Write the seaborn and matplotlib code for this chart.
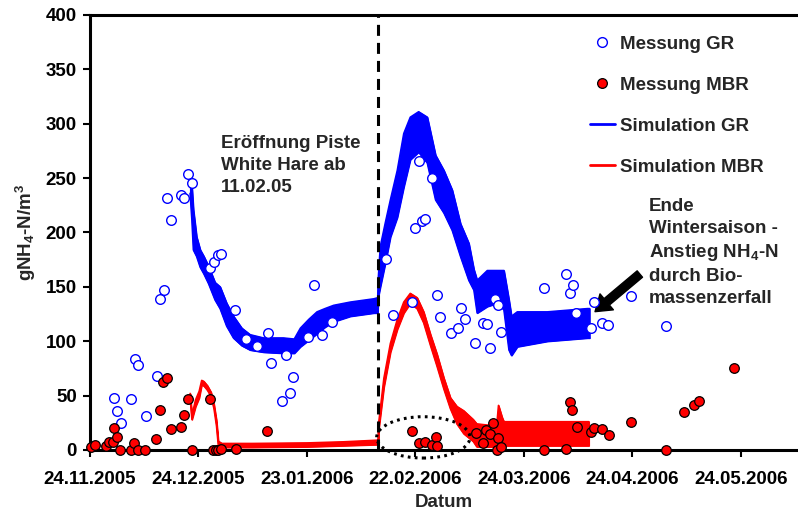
import matplotlib
matplotlib.use("Agg")
import matplotlib.pyplot as plt
import seaborn as sns
import pandas as pd
from matplotlib.lines import Line2D
from matplotlib.patches import Ellipse

sns.set_style("ticks")
plt.rcParams['font.family'] = ['Liberation Sans', 'DejaVu Sans']
plt.rcParams['font.weight'] = 'bold'
plt.rcParams['mathtext.fontset'] = 'custom'
plt.rcParams['mathtext.rm'] = 'Liberation Sans:bold'
plt.rcParams['mathtext.it'] = 'Liberation Sans:bold'
plt.rcParams['mathtext.bf'] = 'Liberation Sans:bold'

# ---------------- data (x = days since 24.11.2005) ----------------
tick_days = [0, 30, 60, 90, 120, 150, 180]
tick_labels = ['24.11.2005', '24.12.2005', '23.01.2006', '22.02.2006',
               '24.03.2006', '24.04.2006', '24.05.2006']
y_ticks = [0, 50, 100, 150, 200, 250, 300, 350, 400]

gr_day = [6.6, 7.4, 8.5, 11.4, 12.5, 13.4, 15.4, 18.4, 19.4, 20.4,
          21.2, 22.3, 25.2, 26.1, 27.2, 28.3, 33.3, 34.3, 35.3, 36.2,
          40.2, 43.1, 46.2, 49.2, 50.1, 53.1, 54.3, 55.2, 56.2, 60.2,
          62.0, 64.1, 67.0, 81.9, 83.9, 89.0, 89.8, 90.9, 91.9, 92.8,
          94.7, 96.0, 96.8, 99.9, 101.8, 102.7, 103.8, 106.6, 108.7, 109.7,
          110.6, 111.9, 112.8, 113.7, 125.7, 131.7, 132.9, 133.5, 134.5, 138.6,
          139.5, 141.6, 143.4, 149.7, 159.4]
gr_val = [47.5, 35.9, 24.8, 46.9, 83.4, 78.2, 31.3, 68.3, 138.6, 147.4,
          232, 211.8, 234.2, 232, 253.8, 245.8, 167, 172.6, 179.3, 180.5,
          128.7, 101.8, 95.6, 107.9, 80.3, 44.8, 87.4, 52.1, 66.8, 103.6,
          152, 105.4, 117.7, 175.6, 124.1, 136.4, 204.1, 266, 210.9, 212.1,
          249.8, 142.2, 122.6, 107.9, 112.5, 130.3, 120.5, 98.7, 117.1, 116.2,
          94.1, 138.5, 133.6, 108.8, 149.3, 162.1, 144.7, 151.4, 126, 112.5,
          135.8, 117.1, 114.7, 142, 114.3]

mbr_day = [0.3, 1.4, 4.3, 5.3, 6.5, 6.6, 7.4, 8.4, 11.4, 12.3,
           13.2, 15.3, 18.3, 19.4, 20.3, 21.3, 22.4, 25.3, 26.1, 27.2,
           28.2, 33.2, 34.0, 34.8, 35.5, 36.3, 40.3, 49.1, 89.1, 91.0,
           92.7, 94.7, 95.8, 96.0, 106.7, 108.7, 109.6, 110.6, 111.6, 112.5,
           113.0, 113.7, 125.6, 131.7, 132.8, 133.4, 134.6, 138.5, 139.5, 141.6,
           143.5, 149.7, 159.4, 164.4, 167.2, 168.4, 178.2]
mbr_val = [3.0, 4.6, 4.0, 7.1, 7.6, 20.5, 12.3, 0, 0, 6.7,
           0, 0, 9.8, 36.8, 62.8, 65.9, 19.0, 21.5, 32.2, 46.6,
           0, 46.6, 0, 0, 0, 0.9, 0.6, 17.5, 17.5, 6.1,
           7.7, 4.6, 12.3, 4.0, 16.0, 6.7, 18.4, 14.4, 25.1, 0,
           10.7, 3.0, 0, 0.6, 44.5, 36.8, 21.5, 16.2, 20.5, 19.3,
           13.5, 26.0, 0, 34.6, 41.4, 45.0, 75.4]

# simulation: oscillation envelope (lower / upper)
sim_gr_day = [27.7, 28.2, 28.6, 29.5, 30.5, 31.5, 32.8, 34.6, 36.0, 37.8,
              39.7, 42.0, 44.3, 48.0, 53.5, 56.5, 58.2, 60.5, 62.8, 65.0,
              67.4, 72.0, 78.5, 79.6, 79.7, 80.3, 81.7, 83.1, 85.0, 86.8,
              88.6, 90.9, 93.3, 95.6, 97.9, 100.2, 102.5, 104.8, 106.2, 107.1,
              109.9, 112.7, 114.5, 115.9, 116.6, 118.2, 126.5, 137.6, 138.2]
sim_gr_lo = [236, 211, 184, 178, 168, 162, 153, 138, 130, 114,
             103, 96, 92, 90, 89, 89, 95, 101, 107, 113,
             118, 123, 126, 126, 140, 150, 172, 196, 214, 242,
             267, 274, 264, 230, 218, 202, 178, 156, 147, 126,
             132, 135, 129, 92, 87, 95, 100, 103, 103]
sim_gr_hi = [246, 242, 221, 196, 184, 178, 169, 154, 150, 135,
             123, 112, 106, 103, 103, 102, 112, 120, 127, 130,
             133, 136, 139, 140, 155, 187, 209, 230, 257, 291,
             306, 311, 306, 271, 257, 239, 208, 190, 166, 156,
             165, 165, 165, 138, 123, 127, 127, 130, 130]

sim_mbr_day = [27.7, 28.2, 29.2, 30.2, 30.9, 31.5, 32.5, 33.5, 34.3, 35.0,
               35.5, 36.5, 45.0, 60.0, 70.0, 79.5, 79.7, 79.9, 81.3, 83.1,
               85.0, 86.8, 88.6, 90.5, 92.3, 94.2, 96.0, 97.9, 99.7, 101.5,
               103.4, 106.0, 107.0, 112.5, 113.0, 114.0, 114.5, 138.0]
sim_mbr_lo = [48, 28, 40, 48, 60, 59, 55, 49, 38, 22,
              4, 2.5, 2.5, 3, 4, 5, 5, 20, 58, 90,
              111, 126, 135, 130, 117, 96, 77, 56, 38, 24,
              15, 8, 3, 3, 3, 4, 4, 4]
sim_mbr_hi = [52, 32, 46, 54, 64, 63, 59, 53, 42, 27,
              8, 6, 6, 6.5, 7.5, 9, 10, 26, 66, 98,
              120, 136, 144, 140, 127, 106, 88, 66, 48, 40,
              36, 28, 24, 22, 41, 30, 26, 26]

event_day = 79.7
legend_labels = ['Messung GR', 'Messung MBR', 'Simulation GR', 'Simulation MBR']

# ---------------- figure ----------------
fig = plt.figure(figsize=(7.98, 5.12), dpi=100)
ax = fig.add_axes([90 / 798, 62 / 512, 707 / 798, 435 / 512])

gr_sim = pd.DataFrame({'d': sim_gr_day, 'lo': sim_gr_lo, 'hi': sim_gr_hi})
mbr_sim = pd.DataFrame({'d': sim_mbr_day, 'lo': sim_mbr_lo, 'hi': sim_mbr_hi})

ax.fill_between(gr_sim['d'], gr_sim['lo'], gr_sim['hi'], color='#0000FF', lw=1.0, zorder=2)
sns.lineplot(data=gr_sim, x='d', y='lo', color='#0000FF', lw=1.2, sort=False, ax=ax, zorder=2)
sns.lineplot(data=gr_sim, x='d', y='hi', color='#0000FF', lw=1.2, sort=False, ax=ax, zorder=2)

ax.fill_between(mbr_sim['d'], mbr_sim['lo'], mbr_sim['hi'], color='#FF0000', lw=1.0, zorder=2.1)
sns.lineplot(data=mbr_sim, x='d', y='lo', color='#FF0000', lw=1.2, sort=False, ax=ax, zorder=2.1)
sns.lineplot(data=mbr_sim, x='d', y='hi', color='#FF0000', lw=1.2, sort=False, ax=ax, zorder=2.1)

ax.axvline(event_day, color='black', lw=2.2, linestyle=(0, (3.6, 2.3)), zorder=3)

sns.scatterplot(x=gr_day, y=gr_val, ax=ax, marker='o', s=48, color='white',
                edgecolor='#0000FF', linewidth=1.0, zorder=5, clip_on=False)
sns.scatterplot(x=mbr_day, y=mbr_val, ax=ax, marker='o', s=48, color='#FF0000',
                edgecolor='black', linewidth=0.9, zorder=5, clip_on=False)

ell = Ellipse((92.2, 11.6), width=25.8, height=38, fill=False, edgecolor='black',
              lw=2.2, linestyle=(0, (0.9, 1.4)), clip_on=False, zorder=4)
ax.add_patch(ell)

# axes styling
ax.set_xlim(0, 707 / 3.615)
ax.set_ylim(0, 400)
ax.set_xticks(tick_days)
ax.set_xticklabels(tick_labels)
ax.set_yticks(y_ticks)
for s in ['left', 'bottom', 'top']:
    ax.spines[s].set_linewidth(2.2)
    ax.spines[s].set_color('black')
ax.spines['right'].set_visible(False)
ax.tick_params(axis='x', direction='out', length=5, width=1.5, pad=10,
               labelsize=13.5, colors='black')
ax.tick_params(axis='y', direction='out', length=5, width=1.5, pad=4.5,
               labelsize=13.5, colors='black')
for lab in ax.get_xticklabels() + ax.get_yticklabels():
    lab.set_fontweight('bold')

ax.set_xlabel('Datum', fontsize=13.5, fontweight='bold')
ax.xaxis.set_label_coords(0.5, -0.102)
ax.set_ylabel('gNH$_4$-N/m$^3$', fontsize=13.5, fontweight='bold')
ax.yaxis.set_label_coords(-0.074, 0.5)

# legend
handles = [
    Line2D([], [], marker='o', ls='none', mfc='white', mec='#0000FF', ms=7, mew=1.0),
    Line2D([], [], marker='o', ls='none', mfc='#FF0000', mec='black', ms=7, mew=0.9),
    Line2D([], [], color='#0000FF', lw=2),
    Line2D([], [], color='#FF0000', lw=2),
]
leg = ax.legend(handles, legend_labels, loc='upper left',
                bbox_to_anchor=((590 - 90) / 707, (450 - 35.5) / 435),
                frameon=False, borderpad=0, borderaxespad=0,
                labelspacing=1.28, handlelength=1.33, handletextpad=0.25,
                prop={'size': 13.5, 'weight': 'bold'})

# annotations
ax.text(36.2, 289.5, 'Eröffnung Piste\nWhite Hare ab\n11.02.05', fontsize=13.5,
        fontweight='bold', ha='left', va='top', linespacing=1.36)
ax.text(154.7, 231.5, 'Ende\nWintersaison -\nAnstieg NH$_4$-N\ndurch Bio-\nmassenzerfall',
        fontsize=13.5, fontweight='bold', ha='left', va='top', linespacing=1.36)
ax.annotate('', xy=(139.7, 127.2), xytext=(152.1, 161.8),
            arrowprops=dict(facecolor='black', edgecolor='black', width=6,
                            headwidth=15, headlength=11, shrink=0))

fig.savefig('out.png', dpi=100)
